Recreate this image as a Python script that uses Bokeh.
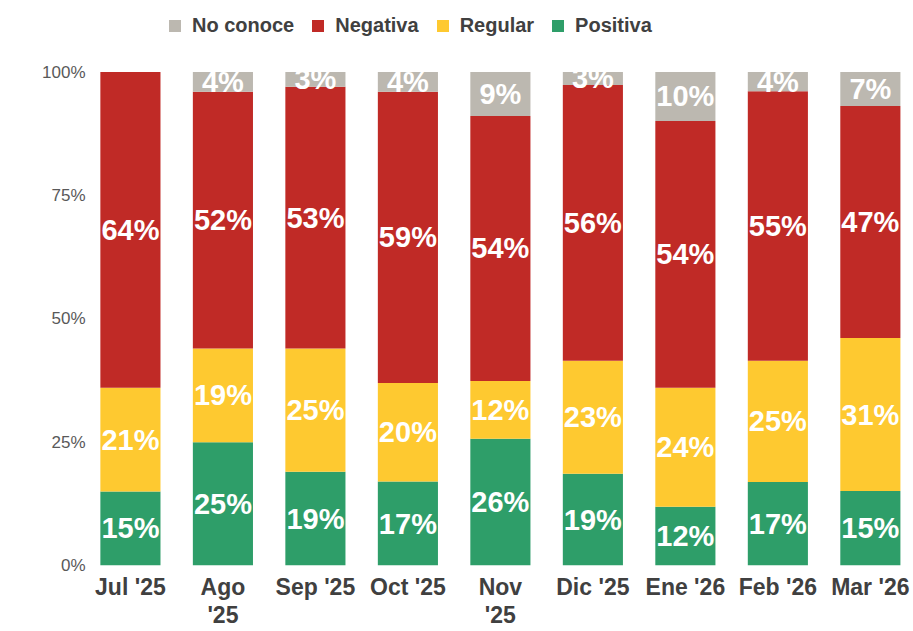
from bokeh.plotting import figure
from bokeh.models import ColumnDataSource, Legend, LegendItem, FixedTicker, Range1d
from bokeh.embed import file_html
from bokeh.resources import INLINE
from bokeh.core.properties import value

# ---- data ----
months = ["Jul '25", "Ago\n'25", "Sep '25", "Oct '25", "Nov\n'25",
          "Dic '25", "Ene '26", "Feb '26", "Mar '26"]
positiva = [15, 25, 19, 17, 25.7, 18.6, 11.9, 16.9, 15.1]
regular = [21, 19, 25, 20, 11.7, 22.9, 24.1, 24.6, 31.0]
negativa = [64, 52, 53, 59, 53.7, 55.9, 54.1, 54.6, 47.0]
no_conoce = [0, 4, 3, 4, 8.9, 2.6, 9.9, 3.9, 6.9]
series_names = ["Positiva", "Regular", "Negativa", "No conoce"]
series_colors = ["#2E9E69", "#FEC930", "#C02A26", "#BCB8B0"]
y_ticks = [0, 25, 50, 75, 100]

FONT = "Liberation Sans"

xs = list(range(len(months)))
data = {"x": xs, "Positiva": positiva, "Regular": regular,
        "Negativa": negativa, "No conoce": no_conoce}
source = ColumnDataSource(data)

# frame spans the whole height above the axis so the legend can sit at the top
p = figure(width=913, height=631, output_backend="svg", toolbar_location=None,
           x_range=Range1d(-0.41, 8.38), y_range=Range1d(0, 114.5),
           min_border_left=92, min_border_right=8, min_border_top=0,
           min_border_bottom=64)

renderers = p.vbar_stack(series_names, x="x", width=0.65, color=series_colors,
                         source=source, line_color=None)

# segment labels
all_series = [positiva, regular, negativa, no_conoce]
lx, ly, lt = [], [], []
for i in xs:
    base = 0
    for s in all_series:
        v = s[i]
        if v > 0:
            lx.append(i)
            ly.append(base + v / 2)
            lt.append(f"{round(v)}%")
        base += v
lsrc = ColumnDataSource(dict(x=lx, y=ly, t=lt))
p.text(x="x", y="y", text="t", source=lsrc, text_align="center",
       text_baseline="middle", text_color="white", text_font=value(FONT),
       text_font_style="bold", text_font_size="29px")

# axes
p.xaxis.ticker = FixedTicker(ticks=xs)
p.xaxis.major_label_overrides = {i: m for i, m in enumerate(months)}
p.xaxis.major_label_text_font = FONT
p.xaxis.major_label_text_font_style = "bold"
p.xaxis.major_label_text_font_size = "23px"
p.xaxis.major_label_text_line_height = 1.1
p.xaxis.major_label_text_color = "#404040"
p.xaxis.major_label_standoff = 8
p.xaxis.axis_label_standoff = 0
p.xaxis.major_tick_out = 0
p.xaxis.major_tick_in = 0
p.xaxis.axis_line_color = None
p.xaxis.major_tick_line_color = None
p.xaxis.minor_tick_line_color = None

p.yaxis.ticker = FixedTicker(ticks=y_ticks)
p.yaxis.major_label_overrides = {t: f"{t}%" for t in y_ticks}
p.yaxis.major_label_text_font = FONT
p.yaxis.major_label_text_font_size = "17px"
p.yaxis.major_label_text_color = "#595959"
p.yaxis.major_label_standoff = 7
p.yaxis.axis_label_standoff = 0
p.yaxis.major_tick_out = 0
p.yaxis.major_tick_in = 0
p.yaxis.axis_line_color = None
p.yaxis.major_tick_line_color = None
p.yaxis.minor_tick_line_color = None

p.xgrid.grid_line_color = None
p.ygrid.grid_line_color = None
p.outline_line_color = None

items = [LegendItem(label=series_names[k], renderers=[renderers[k]]) for k in [3, 2, 1, 0]]
legend = Legend(items=items, orientation="horizontal", location=(75, 528),
                label_text_font=FONT, label_text_font_style="bold",
                label_text_font_size="20px", label_text_color="#404040",
                glyph_width=15, glyph_height=15, label_standoff=10, spacing=16,
                padding=0, margin=0, border_line_color=None,
                background_fill_alpha=0)
p.add_layout(legend, "center")

open("out.html", "w").write(file_html(p, INLINE))
